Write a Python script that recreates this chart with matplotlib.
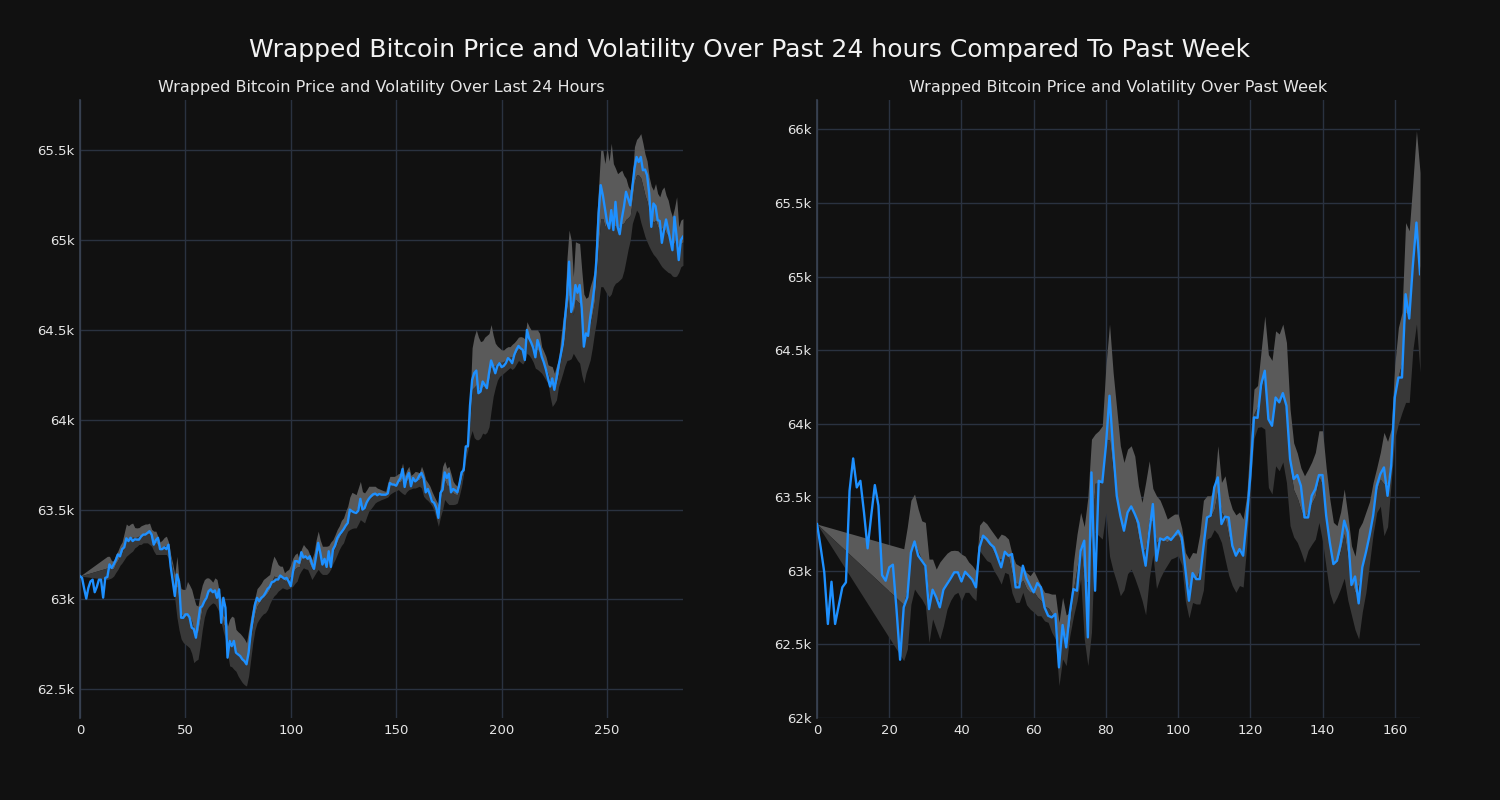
"""
Wrapped Bitcoin price + volatility band, last 24 hours vs past week.
"""

import matplotlib
matplotlib.use("Agg")
import matplotlib.pyplot as plt
from matplotlib.ticker import FuncFormatter
import numpy as np

BG = "#111111"
GRID = "#2a3240"
TEXT = "#e6e6e6"
LINE = "#1e90ff"
BAND_HI = "#5a5a5a"
BAND_LO = "#383838"

plt.rcParams.update({
    "font.family":      "DejaVu Sans",
    "figure.facecolor": BG,
    "axes.facecolor":   BG,
    "axes.edgecolor":   "#3a4454",
    "axes.labelcolor":  TEXT,
    "xtick.color":      TEXT,
    "ytick.color":      TEXT,
    "text.color":       TEXT,
})

# ─── last 24 hours (5-minute steps) ──────────────────────────────────────────

price_24h = [
    63130, 63120, 63060, 63005, 63065, 63100, 63110, 63040, 63070, 63110,
    63110, 63010, 63120, 63125, 63195, 63175, 63195, 63220, 63250, 63240,
    63280, 63290, 63340, 63325, 63343, 63325, 63335, 63333, 63333, 63350,
    63361, 63361, 63370, 63380, 63361, 63305, 63330, 63343, 63280, 63280,
    63290, 63280, 63305, 63185, 63100, 63019, 63139, 63100, 62898, 62898,
    62917, 62917, 62900, 62843, 62835, 62787, 62870, 62954, 62963, 62990,
    63009, 63046, 63056, 63040, 63050, 63009, 63056, 62870, 63009, 62954,
    62676, 62769, 62740, 62769, 62704, 62694, 62685, 62667, 62657, 62639,
    62704, 62815, 62898, 62972, 63009, 62991, 63009, 63018, 63037, 63059,
    63070, 63096, 63100, 63111, 63111, 63133, 63124, 63115, 63120, 63100,
    63074, 63152, 63213, 63213, 63204, 63263, 63233, 63240, 63226, 63240,
    63200, 63170, 63240, 63315, 63259, 63194, 63226, 63181, 63268, 63181,
    63278, 63300, 63340, 63360, 63374, 63390, 63410, 63426, 63500, 63491,
    63485, 63481, 63494, 63560, 63500, 63509, 63540, 63560, 63574, 63585,
    63589, 63580, 63587, 63583, 63583, 63583, 63590, 63648, 63640, 63639,
    63633, 63657, 63676, 63726, 63626, 63680, 63704, 63630, 63676, 63657,
    63667, 63690, 63704, 63676, 63596, 63615, 63583, 63546, 63537, 63510,
    63454, 63593, 63611, 63707, 63676, 63700, 63596, 63615, 63607, 63596,
    63644, 63707, 63720, 63852, 63852, 64080, 64222, 64260, 64274, 64148,
    64157, 64213, 64194, 64176, 64259, 64330, 64296, 64259, 64300, 64315,
    64293, 64300, 64315, 64343, 64333, 64315, 64361, 64390, 64411, 64398,
    64389, 64333, 64500, 64454, 64430, 64400, 64348, 64444, 64407, 64352,
    64320, 64280, 64230, 64185, 64230, 64167, 64230, 64300, 64360, 64420,
    64560, 64680, 64880, 64600, 64650, 64750, 64707, 64750, 64620, 64407,
    64481, 64467, 64570, 64650, 64740, 64900, 65150, 65306, 65250, 65176,
    65100, 65065, 65167, 65056, 65213, 65074, 65033, 65120, 65185, 65269,
    65231, 65194, 65296, 65398, 65463, 65435, 65463, 65389, 65393, 65361,
    65259, 65074, 65204, 65189, 65111, 65107, 64985, 65056, 65115, 65056,
    65000, 64944, 65130, 65019, 64889, 65000, 65019,
]

# band is drawn from step 0, then from step 13 onward
band_start_24h = 13
upper_24h = [
    63130,
    63240, 63240, 63215, 63215, 63250, 63270, 63300,
    63320, 63370, 63420, 63410, 63420, 63425, 63400, 63398, 63400, 63410,
    63415, 63420, 63420, 63425, 63390, 63380, 63380, 63350, 63320, 63330,
    63345, 63352, 63320, 63250, 63200, 63140, 63240, 63110, 63060, 63056,
    63056, 63100, 63080, 63056, 63010, 62970, 62963, 63030, 63080, 63110,
    63120, 63120, 63110, 63096, 63120, 63111, 63050, 63000, 62910, 62900,
    62852, 62890, 62907, 62900, 62833, 62820, 62810, 62796, 62780, 62759,
    62830, 62900, 62960, 63009, 63060, 63074, 63090, 63111, 63120, 63130,
    63139, 63200, 63241, 63220, 63194, 63185, 63185, 63148, 63160, 63167,
    63194, 63230, 63250, 63259, 63222, 63280, 63306, 63290, 63278, 63250,
    63222, 63260, 63330, 63380, 63330, 63296, 63296, 63296, 63300, 63320,
    63333, 63360, 63389, 63410, 63440, 63454, 63490, 63519, 63570, 63596,
    63590, 63583, 63620, 63657, 63600, 63593, 63610, 63630, 63630, 63630,
    63630, 63620, 63615, 63610, 63605, 63602, 63650, 63685, 63685, 63685,
    63690, 63700, 63704, 63759, 63690, 63720, 63741, 63690, 63700, 63713,
    63710, 63705, 63741, 63710, 63667, 63650, 63630, 63600, 63574, 63550,
    63528, 63640, 63740, 63769, 63730, 63741, 63700, 63657, 63640, 63630,
    63680, 63722, 63760, 63852, 63900, 64100, 64400, 64463, 64500, 64460,
    64435, 64440, 64460, 64470, 64480, 64530, 64470, 64426, 64410, 64400,
    64389, 64389, 64400, 64407, 64407, 64420, 64430, 64444, 64460, 64463,
    64460, 64450, 64546, 64520, 64500, 64500, 64500, 64500, 64481, 64407,
    64380, 64352, 64306, 64300, 64296, 64259, 64300, 64333, 64450, 64550,
    64630, 64900, 65056, 65000, 64796, 64991, 64985, 64981, 64833, 64700,
    64676, 64685, 64741, 64780, 64833, 65100, 65300, 65500, 65500, 65426,
    65511, 65440, 65539, 65426, 65400, 65370, 65380, 65389, 65360, 65343,
    65300, 65278, 65352, 65520, 65560, 65574, 65593, 65540, 65480, 65440,
    65350, 65300, 65278, 65315, 65260, 65241, 65280, 65296, 65250, 65222,
    65167, 65130, 65180, 65241, 65074, 65111, 65120,
]
lower_24h = [
    63130,
    63111, 63115, 63120, 63130, 63150, 63167, 63190,
    63204, 63222, 63240, 63250, 63260, 63269, 63287, 63295, 63306, 63306,
    63315, 63315, 63315, 63306, 63296, 63269, 63250, 63250, 63250, 63250,
    63250, 63250, 63230, 63210, 63130, 63000, 62900, 62830, 62780, 62760,
    62750, 62741, 62730, 62700, 62648, 62660, 62667, 62740, 62830, 62900,
    62940, 62960, 62972, 62981, 62975, 62954, 62930, 62870, 62820, 62778,
    62700, 62630, 62625, 62611, 62600, 62574, 62555, 62537, 62525, 62518,
    62574, 62667, 62760, 62830, 62870, 62890, 62907, 62920, 62926, 62944,
    62975, 63000, 63019, 63030, 63046, 63055, 63065, 63060, 63056, 63060,
    63065, 63074, 63090, 63102, 63139, 63160, 63176, 63170, 63167, 63140,
    63111, 63130, 63150, 63167, 63150, 63139, 63139, 63139, 63150, 63170,
    63200, 63222, 63250, 63278, 63300, 63315, 63350, 63380, 63389, 63395,
    63398, 63398, 63420, 63444, 63435, 63426, 63460, 63491, 63505, 63520,
    63537, 63545, 63550, 63556, 63560, 63565, 63570, 63585, 63593, 63600,
    63605, 63611, 63600, 63590, 63583, 63600, 63611, 63615, 63620, 63620,
    63625, 63630, 63620, 63574, 63560, 63550, 63537, 63520, 63491, 63450,
    63407, 63460, 63500, 63556, 63540, 63528, 63528, 63528, 63530, 63537,
    63580, 63630, 63700, 63780, 63830, 63900, 63940, 63900, 63889, 63889,
    63900, 63926, 63920, 63930, 63960, 64050, 64130, 64180, 64220, 64241,
    64250, 64260, 64270, 64280, 64290, 64280, 64290, 64310, 64330, 64320,
    64310, 64330, 64370, 64360, 64343, 64320, 64287, 64280, 64270, 64259,
    64240, 64220, 64204, 64130, 64074, 64090, 64111, 64185, 64220, 64259,
    64300, 64330, 64333, 64340, 64370, 64350, 64330, 64315, 64250, 64204,
    64260, 64296, 64333, 64400, 64481, 64550, 64650, 64741, 64741, 64720,
    64700, 64685, 64700, 64741, 64760, 64767, 64778, 64790, 64830, 64889,
    64950, 65000, 65093, 65130, 65167, 65150, 65100, 65060, 65019, 64990,
    64963, 64940, 64920, 64907, 64890, 64870, 64852, 64840, 64830, 64820,
    64815, 64800, 64796, 64800, 64820, 64852, 64860,
]

# ─── past week (hourly steps) ────────────────────────────────────────────────

price_week = [
    63318, 63160, 62990, 62639, 62926, 62639, 62763, 62888, 62922, 63544,
    63764, 63567, 63612, 63397, 63153, 63375, 63583, 63443, 62971, 62933,
    63024, 63042, 62740, 62396, 62752, 62820, 63125, 63200, 63103, 63069,
    63035, 62740, 62872, 62820, 62752, 62872, 62910, 62949, 62990, 62990,
    62928, 62994, 62967, 62940, 62888, 63160, 63239, 63216, 63182, 63160,
    63091, 63024, 63130, 63103, 63114, 62888, 62888, 63035, 62949, 62899,
    62854, 62917, 62888, 62752, 62695, 62684, 62707, 62344, 62632, 62480,
    62718, 62876, 62865, 63137, 63205, 62548, 63669, 62865, 63612, 63601,
    63850, 64190, 63827, 63510, 63375, 63273, 63397, 63438, 63386, 63325,
    63171, 63035, 63261, 63454, 63069, 63220, 63210, 63230, 63210, 63240,
    63273, 63227, 63012, 62797, 62985, 62944, 62944, 63159, 63363, 63375,
    63567, 63635, 63318, 63368, 63363, 63171, 63103, 63148, 63103, 63352,
    63646, 64043, 64040, 64269, 64360, 64031, 63986, 64178, 64145, 64208,
    64122, 63760, 63624, 63651, 63578, 63363, 63363, 63510, 63556, 63651,
    63651, 63375, 63193, 63046, 63069, 63182, 63341, 63261, 62904, 62962,
    62779, 63024, 63125, 63239, 63375, 63578, 63658, 63703, 63510, 63714,
    64178, 64314, 64314, 64880, 64715, 65073, 65367, 65016,
]

# band is drawn from hour 0, then from hour 24 onward
band_start_week = 24
upper_week = [
    63318,
    63150, 63300, 63480, 63522, 63420, 63340,
    63329, 63080, 63080, 63012, 63060, 63091, 63120, 63137, 63140, 63137,
    63114, 63100, 63060, 63035, 63000, 63310, 63341, 63320, 63284, 63250,
    63216, 63250, 63240, 63216, 63114, 63050, 63035, 63020, 62990, 62967,
    63000, 62950, 62900, 62854, 62850, 62842, 62842, 62650, 62820, 62700,
    62718, 63057, 63250, 63397, 63300, 63500, 63895, 63930, 63952, 63986,
    64393, 64677, 64348, 64099, 63850, 63737, 63827, 63850, 63780, 63578,
    63465, 63600, 63748, 63560, 63510, 63480, 63420, 63352, 63370, 63386,
    63386, 63290, 63125, 63080, 63125, 63120, 63250, 63480, 63510, 63510,
    63560, 63850, 63601, 63646, 63500, 63420, 63380, 63400, 63352, 63510,
    63895, 64235, 64260, 64500, 64733, 64470, 64430, 64631, 64610, 64677,
    64552, 64100, 63870, 63800, 63700, 63646, 63690, 63740, 63805, 63952,
    63952, 63700, 63488, 63330, 63307, 63400, 63556, 63380, 63171, 63100,
    63284, 63329, 63400, 63470, 63601, 63700, 63805, 63941, 63880, 63963,
    64400, 64654, 64756, 65367, 65311, 65639, 65990, 65707,
]
lower_week = [
    63318,
    62390, 62469, 62774, 62876, 62840, 62808,
    62763, 62514, 62673, 62605, 62537, 62627, 62740, 62800, 62840, 62854,
    62797, 62854, 62854, 62820, 62797, 63137, 63103, 63070, 63057, 63000,
    62960, 62910, 62990, 62978, 62850, 62786, 62786, 62854, 62770, 62740,
    62720, 62695, 62695, 62660, 62650, 62582, 62537, 62220, 62401, 62356,
    62559, 62690, 62797, 62944, 62537, 62356, 62582, 63261, 63240, 63216,
    63397, 63100, 63000, 62922, 62831, 62870, 62980, 63012, 62950, 62880,
    62800, 62701, 62950, 63110, 62880, 62950, 63000, 63040, 63080, 63090,
    63103, 63040, 62797, 62680, 62785, 62775, 62775, 62870, 63216, 63230,
    63280, 63250, 63193, 63080, 62970, 62900, 62854, 62900, 62890, 63171,
    63578, 63900, 63975, 63980, 63963, 63567, 63522, 63714, 63680, 63740,
    63600, 63307, 63230, 63193, 63130, 63057, 63140, 63180, 63216, 63329,
    63200, 63020, 62850, 62774, 62820, 62880, 62950, 62800, 62700, 62600,
    62537, 62720, 62854, 63050, 63250, 63397, 63440, 63239, 63300, 63600,
    63900, 64000, 64077, 64145, 64145, 64500, 64677, 64350,
]

TITLE = "Wrapped Bitcoin Price and Volatility Over Past 24 hours Compared To Past Week"
PANELS = [
    ("Wrapped Bitcoin Price and Volatility Over Last 24 Hours",
     price_24h, upper_24h, lower_24h, band_start_24h, (62340, 65780)),
    ("Wrapped Bitcoin Price and Volatility Over Past Week",
     price_week, upper_week, lower_week, band_start_week, (62000, 66200)),
]


def k_fmt(v, _pos):
    return f"{v / 1000:g}k"


def draw_panel(ax, title, price, upper, lower, start, ylim):
    price = np.asarray(price, dtype=float)
    upper = np.asarray(upper, dtype=float)
    lower = np.asarray(lower, dtype=float)
    x = np.arange(len(price))
    bx = np.r_[0, np.arange(start, len(price))]
    n = min(len(bx), len(upper), len(lower))
    if n != len(bx):
        print("band length mismatch", title, len(bx), len(upper), len(lower))
    bx, upper, lower = bx[:n], upper[:n], lower[:n]
    mid = (upper + lower) / 2

    # upper half lighter, lower half darker
    ax.fill_between(bx, mid, upper, color=BAND_HI, linewidth=0, zorder=1)
    ax.fill_between(bx, lower, mid, color=BAND_LO, linewidth=0, zorder=1)
    ax.plot(x, price, color=LINE, linewidth=1.7, zorder=3)

    ax.set_xlim(0, len(price) - 1)
    ax.set_ylim(*ylim)
    ax.yaxis.set_major_formatter(FuncFormatter(k_fmt))
    ax.grid(True, color=GRID, linewidth=1.0)
    ax.set_axisbelow(True)
    for side in ("top", "right", "bottom"):
        ax.spines[side].set_visible(False)
    ax.spines["left"].set_linewidth(1.2)
    ax.tick_params(length=0, labelsize=9.5, pad=4)
    ax.set_title(title, fontsize=11.5, color=TEXT, pad=6)


def main():
    fig = plt.figure(figsize=(15, 8), dpi=100)
    ax1 = fig.add_axes([0.0533, 0.1025, 0.402, 0.7725])
    ax2 = fig.add_axes([0.5447, 0.1025, 0.402, 0.7725])

    for ax, spec in zip((ax1, ax2), PANELS):
        draw_panel(ax, *spec)

    fig.suptitle(TITLE, fontsize=18, color="#f2f2f2", y=0.953)
    fig.savefig("out.png", dpi=100, facecolor=BG)
    plt.close(fig)


if __name__ == "__main__":
    main()
